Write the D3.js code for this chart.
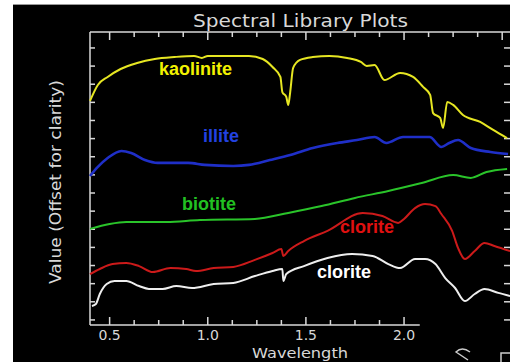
<!DOCTYPE html>
<html>
<head>
<meta charset="utf-8">
<script src="https://cdn.jsdelivr.net/npm/d3@7"></script>
<style>
  body { margin: 0; background: #fff; }
  svg { display: block; }
</style>
</head>
<body>
<script>
// Spectral library plot (ENVI style), offset spectra

// wavelength (micrometres) and offset values
var kaoliniteWl  = [0.40, 0.44, 0.49, 0.556, 0.64, 0.73, 0.83, 0.93, 0.97, 1.0, 1.13, 1.21, 1.28, 1.33, 1.37, 1.38, 1.40, 1.41, 1.42, 1.435, 1.47, 1.535, 1.62, 1.71, 1.78, 1.81, 1.85, 1.90, 1.98, 2.046, 2.097, 2.133, 2.148, 2.184, 2.199, 2.22, 2.25, 2.30, 2.388, 2.454, 2.525];
var kaoliniteVal = [1.208, 1.296, 1.340, 1.384, 1.417, 1.439, 1.450, 1.456, 1.445, 1.456, 1.456, 1.456, 1.439, 1.395, 1.340, 1.257, 1.230, 1.186, 1.257, 1.390, 1.434, 1.450, 1.456, 1.445, 1.423, 1.401, 1.406, 1.323, 1.362, 1.340, 1.285, 1.241, 1.141, 1.114, 1.059, 1.202, 1.186, 1.130, 1.092, 1.048, 1.003];

var illiteWl  = [0.40, 0.44, 0.49, 0.56, 0.61, 0.68, 0.745, 0.83, 0.90, 0.985, 1.13, 1.21, 1.316, 1.42, 1.535, 1.66, 1.76, 1.85, 1.91, 1.995, 2.13, 2.19, 2.23, 2.275, 2.34, 2.44, 2.53];
var illiteVal = [0.794, 0.844, 0.893, 0.932, 0.921, 0.882, 0.866, 0.866, 0.866, 0.855, 0.849, 0.855, 0.882, 0.910, 0.948, 0.976, 0.992, 1.009, 0.976, 1.009, 1.009, 0.954, 0.976, 0.992, 0.948, 0.926, 0.915];

var biotiteWl  = [0.40, 0.50, 0.585, 0.79, 0.96, 1.24, 1.41, 1.58, 1.75, 1.92, 2.09, 2.25, 2.34, 2.42, 2.525];
var biotiteVal = [0.502, 0.529, 0.540, 0.540, 0.551, 0.557, 0.590, 0.628, 0.673, 0.711, 0.755, 0.799, 0.783, 0.816, 0.833];

var cloriteRedWl  = [0.40, 0.45, 0.515, 0.585, 0.65, 0.72, 0.81, 0.89, 0.94, 1.03, 1.13, 1.24, 1.33, 1.375, 1.385, 1.41, 1.49, 1.61, 1.79, 1.89, 1.97, 2.0, 2.056, 2.107, 2.16, 2.19, 2.245, 2.275, 2.31, 2.36, 2.41, 2.46, 2.54];
var cloriteRedVal = [0.253, 0.281, 0.308, 0.314, 0.297, 0.264, 0.286, 0.281, 0.270, 0.286, 0.292, 0.331, 0.369, 0.391, 0.353, 0.380, 0.435, 0.491, 0.590, 0.573, 0.535, 0.557, 0.617, 0.639, 0.628, 0.584, 0.491, 0.397, 0.336, 0.380, 0.424, 0.408, 0.380];

var cloriteWhiteWl  = [0.41, 0.43, 0.45, 0.485, 0.525, 0.585, 0.65, 0.70, 0.77, 0.84, 0.92, 1.03, 1.13, 1.24, 1.33, 1.38, 1.385, 1.40, 1.49, 1.61, 1.735, 1.84, 1.92, 1.98, 2.056, 2.107, 2.16, 2.21, 2.26, 2.31, 2.36, 2.41, 2.48, 2.54];
var cloriteWhiteVal = [0.077, 0.088, 0.143, 0.198, 0.215, 0.215, 0.187, 0.171, 0.171, 0.187, 0.176, 0.198, 0.204, 0.242, 0.270, 0.281, 0.215, 0.253, 0.297, 0.342, 0.364, 0.353, 0.308, 0.286, 0.336, 0.336, 0.308, 0.231, 0.176, 0.104, 0.143, 0.171, 0.149, 0.132];

var seriesNames = ["kaolinite", "illite", "biotite", "clorite", "clorite"];
var seriesColors = ["#e6e622", "#1f2fc8", "#2ac42a", "#cc1a1a", "#eeeeee"];
var labelColors = ["#f2f200", "#2242e0", "#22c022", "#e01010", "#ffffff"];

var xTicks = [0.5, 1.0, 1.5, 2.0];
var xTickLabels = ["0.5", "1.0", "1.5", "2.0"];

var W = 510, H = 362;

var svg = d3.select("body").append("svg")
    .attr("width", W)
    .attr("height", H);

// screenshot background: white margin, black window
svg.append("rect").attr("width", W).attr("height", H).attr("fill", "#fff");
svg.append("rect").attr("x", 13).attr("y", 4).attr("width", W - 13).attr("height", H - 4).attr("fill", "#000");
svg.append("line").attr("x1", 13).attr("x2", W).attr("y1", 4.5).attr("y2", 4.5)
    .attr("stroke", "#999").attr("stroke-width", 1);

// scales
var x = d3.scaleLinear().domain([0.4, 2.55]).range([90, 512]);
var y = d3.scaleLinear().domain([-0.028, 1.588]).range([325, 32]);

var axisColor = "#d8d8d8";
var frame = svg.append("g").attr("stroke", axisColor).attr("stroke-width", 1.5).attr("fill", "none");

// frame lines
frame.append("line").attr("x1", x(0.4)).attr("x2", W).attr("y1", y(1.588)).attr("y2", y(1.588));
frame.append("line").attr("x1", x(0.4)).attr("x2", x(0.4)).attr("y1", y(1.588)).attr("y2", y(-0.028));
frame.append("line").attr("x1", x(0.4)).attr("x2", x(2.08)).attr("y1", y(-0.028)).attr("y2", y(-0.028));

// x ticks (major 0.5, minor 0.125)
var minorX = d3.range(0.5, 2.51, 0.125);
minorX.forEach(function(t) {
    var major = Math.abs(t * 2 - Math.round(t * 2)) < 1e-6;
    frame.append("line")
        .attr("x1", x(t)).attr("x2", x(t))
        .attr("y1", y(1.588)).attr("y2", y(1.588) + (major ? 8 : 5));
    if (t <= 2.0001) {
        frame.append("line")
            .attr("x1", x(t)).attr("x2", x(t))
            .attr("y1", y(-0.028)).attr("y2", y(-0.028) - (major ? 8 : 5));
    }
});

// y ticks, left and right
d3.range(0, 1.55, 0.1).forEach(function(t) {
    frame.append("line")
        .attr("x1", x(0.4)).attr("x2", x(0.4) + 5)
        .attr("y1", y(t)).attr("y2", y(t));
    frame.append("line")
        .attr("x1", W - 6).attr("x2", W)
        .attr("y1", y(t)).attr("y2", y(t));
});

// tick labels
svg.selectAll(".xlab")
    .data(xTicks)
  .enter().append("text")
    .attr("x", function(d) { return x(d); })
    .attr("y", 340)
    .attr("text-anchor", "middle")
    .attr("fill", axisColor)
    .attr("font-family", "DejaVu Sans, sans-serif")
    .attr("font-size", 14)
    .text(function(d, i) { return xTickLabels[i]; });

// titles
svg.append("text")
    .attr("x", 193).attr("y", 27)
    .attr("textLength", 215).attr("lengthAdjust", "spacingAndGlyphs")
    .attr("fill", axisColor)
    .attr("font-family", "DejaVu Sans, sans-serif")
    .attr("font-size", 17)
    .text("Spectral Library Plots");

svg.append("text")
    .attr("x", 252).attr("y", 358)
    .attr("textLength", 96).attr("lengthAdjust", "spacingAndGlyphs")
    .attr("fill", axisColor)
    .attr("font-family", "DejaVu Sans, sans-serif")
    .attr("font-size", 14)
    .text("Wavelength");

svg.append("text")
    .attr("transform", "translate(61,284) rotate(-90)")
    .attr("textLength", 204).attr("lengthAdjust", "spacingAndGlyphs")
    .attr("fill", axisColor)
    .attr("font-family", "DejaVu Sans, sans-serif")
    .attr("font-size", 16)
    .text("Value (Offset for clarity)");

// spectra
var allWl = [kaoliniteWl, illiteWl, biotiteWl, cloriteRedWl, cloriteWhiteWl];
var allVal = [kaoliniteVal, illiteVal, biotiteVal, cloriteRedVal, cloriteWhiteVal];

var line = d3.line()
    .curve(d3.curveMonotoneX)
    .x(function(d) { return x(d[0]); })
    .y(function(d) { return y(d[1]); });

allWl.forEach(function(wl, i) {
    var pts = wl.map(function(w, j) { return [w, allVal[i][j]]; });
    svg.append("path")
        .datum(pts)
        .attr("fill", "none")
        .attr("stroke", seriesColors[i])
        .attr("stroke-width", i == 1 ? 2.6 : 2)
        .attr("stroke-linejoin", "round")
        .attr("d", line);
});

// labels on the curves
var labelPos = [[159, 75, 18], [203, 142, 18], [182, 210, 18], [340, 233, 18], [317, 278, 18]];
labelPos.forEach(function(p, i) {
    svg.append("text")
        .attr("x", p[0]).attr("y", p[1])
        .attr("fill", labelColors[i])
        .attr("font-family", "Liberation Sans, Arial, sans-serif")
        .attr("font-weight", "bold")
        .attr("font-size", p[2])
        .text(seriesNames[i]);
});

// window-control bits at bottom right
svg.append("path")
    .attr("d", "M470,352 Q462,346 456,352 Q462,356 468,360")
    .attr("fill", "none").attr("stroke", "#ccc").attr("stroke-width", 1.5);
svg.append("rect")
    .attr("x", 501).attr("y", 353).attr("width", 12).attr("height", 12)
    .attr("fill", "none").attr("stroke", "#ccc").attr("stroke-width", 1.5);
</script>
</body>
</html>
